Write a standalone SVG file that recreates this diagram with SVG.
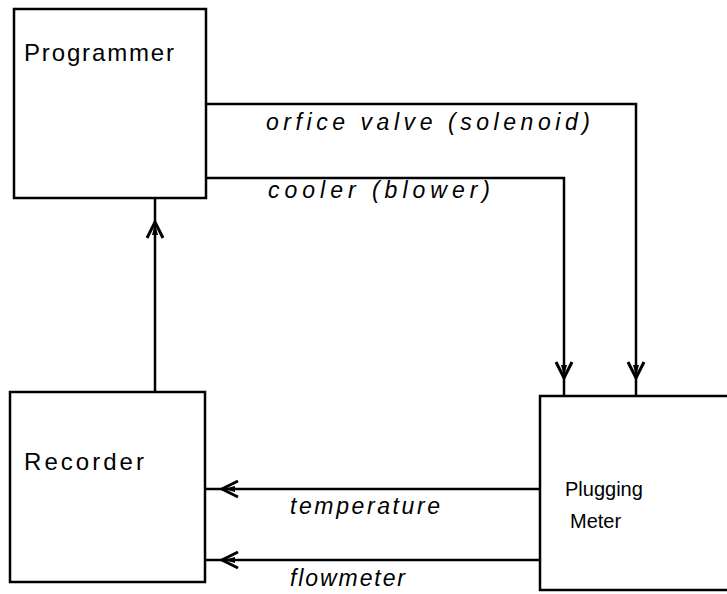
<svg xmlns="http://www.w3.org/2000/svg" xmlns:xlink="http://www.w3.org/1999/xlink" width="727" height="594" viewBox="0 0 727 594">
  <style>
    .box { fill: #fff; stroke: #000; stroke-width: 2.5; }
    .wire { fill: none; stroke: #000; stroke-width: 2.5; }
    .lbl { font-family: "Liberation Sans", Arial, sans-serif; font-size: 23px; fill: #000; font-style: italic; }
    .name { font-family: "Liberation Sans", Arial, sans-serif; font-size: 24px; fill: #000; }
    .small { font-size: 20px; }
  </style>
  <defs>
    <!-- chevron arrowhead pointing up, tip at origin -->
    <g id="chev">
      <path d="M-8,16 L0,0 L8,16" fill="none" stroke="#000" stroke-width="3" stroke-linejoin="miter"/>
      <path d="M-3,13 L0,2 L3,13 Z" fill="#000"/>
    </g>
  </defs>
  <rect width="727" height="594" fill="#fff"/>

  <g id="connectors">
    <!-- Recorder to Programmer -->
    <path class="wire" d="M155,392 V198"/>
    <use xlink:href="#chev" transform="translate(155,222)"/>
    <!-- orifice valve control -->
    <path class="wire" d="M206,104 H636 V396"/>
    <use xlink:href="#chev" transform="translate(636,378) rotate(180)"/>
    <!-- cooler control -->
    <path class="wire" d="M206,178 H564 V396"/>
    <use xlink:href="#chev" transform="translate(564,378) rotate(180)"/>
    <!-- temperature signal -->
    <path class="wire" d="M540,489 H205"/>
    <use xlink:href="#chev" transform="translate(222,489) rotate(-90)"/>
    <!-- flowmeter signal -->
    <path class="wire" d="M540,560 H205"/>
    <use xlink:href="#chev" transform="translate(222,560) rotate(-90)"/>
    <text class="lbl" x="266" y="130" textLength="324" lengthAdjust="spacing">orfice valve (solenoid)</text>
    <text class="lbl" x="268" y="198" textLength="222" lengthAdjust="spacing">cooler (blower)</text>
    <text class="lbl" x="290" y="514" textLength="150" lengthAdjust="spacing">temperature</text>
    <text class="lbl" x="290" y="586" textLength="115" lengthAdjust="spacing">flowmeter</text>
  </g>

  <g id="programmer">
    <rect class="box" x="14" y="9" width="192" height="189"/>
    <text class="name" x="24" y="61" textLength="150" lengthAdjust="spacing">Programmer</text>
  </g>

  <g id="recorder">
    <rect class="box" x="10" y="392" width="195" height="190"/>
    <text class="name" x="24" y="470" textLength="120" lengthAdjust="spacing">Recorder</text>
  </g>

  <g id="plugging-meter">
    <rect class="box" x="540" y="396" width="190" height="194"/>
    <text class="name small" x="565" y="496">Plugging</text>
    <text class="name small" x="570" y="528">Meter</text>
  </g>
</svg>
